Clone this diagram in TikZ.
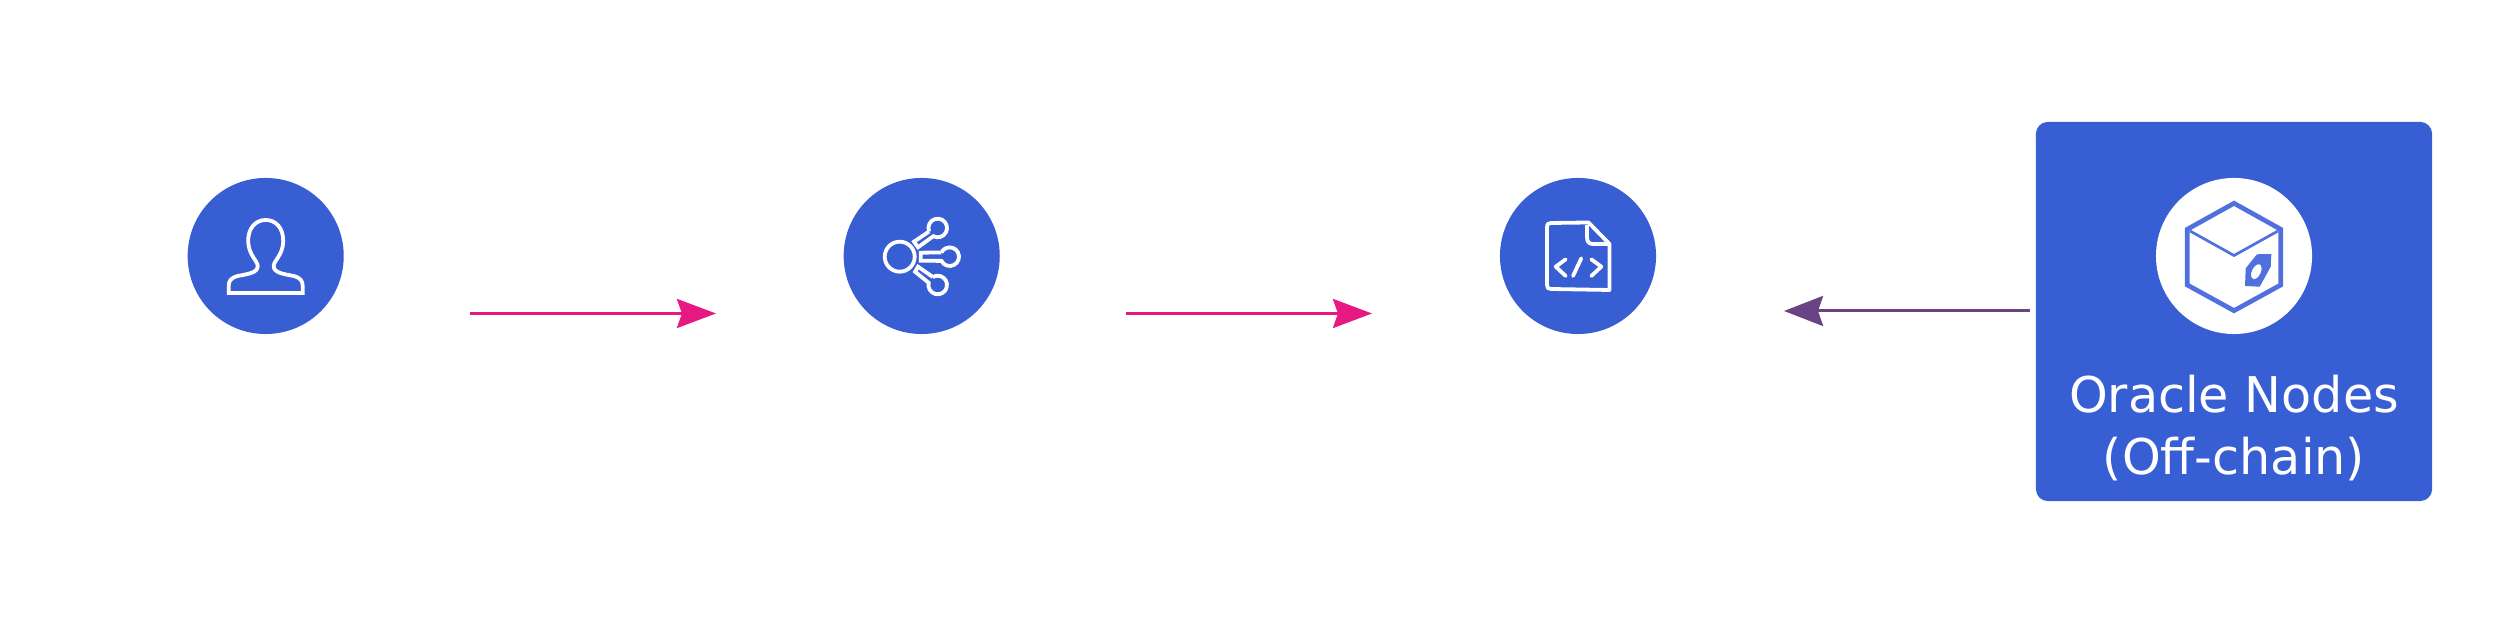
\documentclass[tikz,border=0pt]{standalone}
\usepackage{xcolor}
\usepackage{fontspec}
\setmainfont{DejaVu Sans}
\usetikzlibrary{arrows.meta}
\definecolor{discblue}{RGB}{56,94,211}
\definecolor{cubeblue}{RGB}{80,113,221}
\definecolor{flowpink}{RGB}{230,25,130}
\definecolor{flowpurple}{RGB}{106,67,133}

\begin{document}
\begin{tikzpicture}%
                    [x=0.01cm,
                    y=0.01cm,
                    disc/.style={circle,fill=discblue,inner sep=0pt,outer sep=0pt,minimum size=1.56cm},
                    whitedisc/.style={disc,fill=white},
                    oraclepanel/.style={rectangle,fill=discblue,rounded corners=0.12cm,inner sep=0pt,outer sep=0pt,minimum width=3.96cm,minimum height=3.79cm},
                    panellabel/.style={text=white,align=center,inner sep=0pt,font=\fontsize{14}{17.6}\selectfont},
                    iconline/.style={draw=white,line width=0.038cm},
                    cubeline/.style={draw=cubeblue,line width=0.047cm},
                    flowpinkarrow/.style={draw=flowpink,line width=0.03cm,-{Stealth[length=3.9mm,width=2.9mm,inset=0.5mm]}},
                    flowpurplearrow/.style={draw=flowpurple,line width=0.03cm,-{Stealth[length=3.9mm,width=3mm,inset=0.5mm]}}]
                \useasboundingbox (0,0) rectangle (2500,625);
                %% Drawing the panel and the discs
                \node[oraclepanel] (oraclebox) at (2234,313.5) {};
                \node[disc] (usernode) at (265.7,369) {};
                \node[disc] (sharenode) at (921.7,369) {};
                \node[disc] (codenode) at (1578,369) {};
                \node[whitedisc] (oraclenode) at (2234,369) {};
                \node[panellabel] (oraclelabel) at (2234,197) {Oracle Nodes\\(Off-chain)};
                %%
                %% Person icon
                %%
                \begin{scope}[shift={(usernode.center)}]
                \draw[iconline] (-37,-37) -- (-37,-30) .. controls (-37,-25) and (-35,-22) .. (-28,-20)
                    .. controls (-18,-18) and (-8,-17) .. (-8,-10) .. controls (-8,-5) and (-17,1) .. (-17.5,14)
                    .. controls (-18,28) and (-10,36) .. (0,36) .. controls (10,36) and (18,28) .. (17.5,14)
                    .. controls (17,1) and (8,-5) .. (8,-10) .. controls (8,-17) and (18,-18) .. (28,-20)
                    .. controls (35,-22) and (37,-25) .. (37,-30) -- (37,-37) -- cycle;
                \end{scope}
                %%
                %% Share icon
                %%
                \begin{scope}[shift={(sharenode.center)}]
                \draw[iconline] (-22,-0.7) circle (15);
                \draw[iconline] ([shift={(202:9.3)}]16,28) -- (-7.7,14.3) -- (-3.7,8.7) -- ([shift={(242:9.3)}]16,28) arc (242:562:9.3);
                \draw[iconline] ([shift={(153:9.3)}]28,-0.7) -- (-1,3.3) -- (-1,-4.7) -- ([shift={(207:9.3)}]28,-0.7) arc (207:513:9.3);
                \draw[iconline] ([shift={(121:9.3)}]16,-29) -- (-3.7,-10.7) -- (-6.7,-15.7) -- ([shift={(166:9.3)}]16,-29) arc (166:481:9.3);
                \end{scope}
                %%
                %% Code file icon
                %%
                \begin{scope}[shift={(codenode.center)},line join=round]
                \draw[iconline] (10.5,33.5) -- (-27,33) .. controls (-30,33) and (-31,32) .. (-31,28)
                    -- (-31,-29) .. controls (-31,-32) and (-30,-33) .. (-27,-33) -- (31.5,-34) -- (31.5,12) -- cycle;
                \draw[iconline] (9,31) -- (9,19) .. controls (9,14) and (11,12) .. (15,12) -- (31.5,12);
                \draw[iconline,line cap=round] (-12.3,-3.3) -- (-22.3,-10.7) -- (-12.3,-20);
                \draw[iconline,line cap=round] (3.3,-2.3) -- (-5,-20);
                \draw[iconline,line cap=round] (13.3,-3.3) -- (23.3,-10.7) -- (13.3,-20);
                \end{scope}
                %%
                %% Cube icon
                %%
                \begin{scope}[shift={(oraclenode.center)}]
                \draw[cubeline] (0,52.7) -- (46.7,26.7) -- (46.7,-29) -- (0,-54.7) -- (-46.7,-29) -- (-46.7,26.7) -- cycle;
                \draw[cubeline,line width=0.027cm] (-44,25) -- (0,0.5) -- (44,25);
                \fill[cubeblue,even odd rule] (23,1.7) -- (37.3,2) -- (36.7,-10.7) -- (25.7,-30.7) -- (11,-30) -- (11.7,-12.3) -- cycle
                    (22.3,-15.7) [rotate around={65:(22.3,-15.7)}] ellipse (8 and 4.5);
                \end{scope}
                %%
                %% Arrows
                %%
                \coordinate (userout) at (470,311.5);
                \coordinate (sharein) at (716,311.5);
                \coordinate (shareout) at (1126,311.5);
                \coordinate (codein) at (1372,311.5);
                \coordinate (oraclein) at (1784,314);
                \draw[flowpinkarrow] (userout) -- (sharein);
                \draw[flowpinkarrow] (shareout) -- (codein);
                \draw[flowpurplearrow,shorten <=0.06cm] (oraclebox.west |- oraclein) -- (oraclein);
                \end{tikzpicture}
\end{document}
